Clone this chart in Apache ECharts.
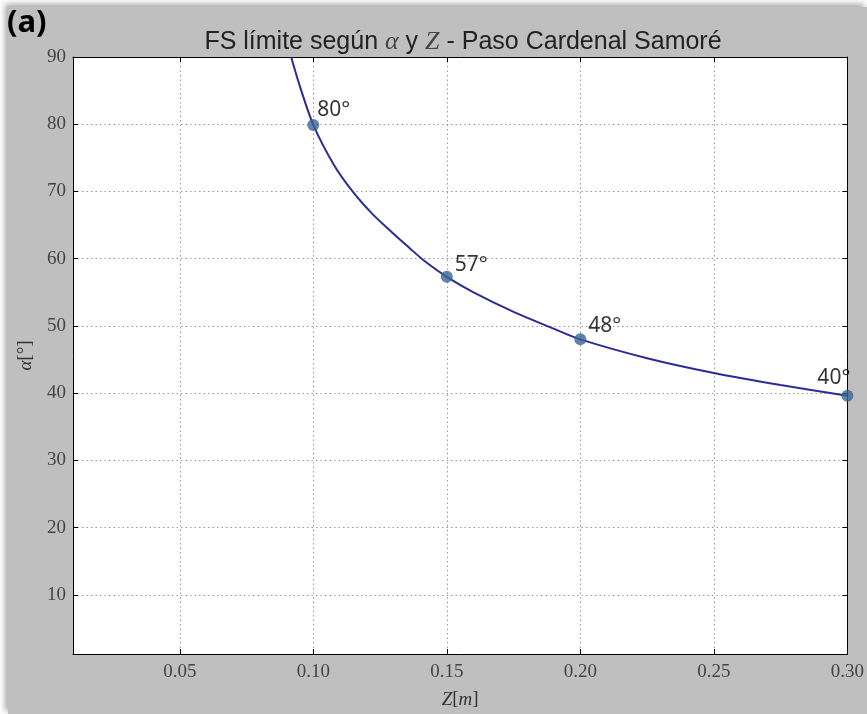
<!DOCTYPE html>
<html lang="es">
<head>
    <meta charset="UTF-8">
    <title>FS límite según α y Z - Paso Cardenal Samoré</title>
    <script src="https://cdn.jsdelivr.net/npm/echarts@6/dist/echarts.min.js"></script>
    <style>
        body { margin: 0; background: #fff; }
        #bg { position: absolute; left: 8px; top: 7px; width: 859px; height: 707px;
              background: #bfbfbf; box-shadow: -3px -3px 6px rgba(0,0,0,0.35); }
        #main { position: absolute; left: 0; top: 0; width: 867px; height: 714px; }
    </style>
</head>
<body>
<div id="bg"></div>
<div id="main"></div>
<script type="text/javascript">
    // curva alpha(Z)
    var zCurve     = [0.0917, 0.095, 0.100, 0.1075, 0.1147, 0.122, 0.1295, 0.136, 0.1415, 0.150, 0.160, 0.175, 0.190, 0.200, 0.225, 0.250, 0.275, 0.300];
    var alphaCurve = [90.0,   85.6,  79.9,  74.1,   70.0,   66.7,  63.9,   61.6,  59.7,   57.3,  55.0,  52.1,  49.6,  48.0,  45.2,  43.0,  41.2,  39.6];
    // puntos marcados
    var zMarks     = [0.10, 0.15, 0.20, 0.30];
    var alphaMarks = [79.9, 57.3, 48.0, 39.6];
    // ticks
    var xTicks = [0.05, 0.10, 0.15, 0.20, 0.25, 0.30];
    var yTicks = [10, 20, 30, 40, 50, 60, 70, 80, 90];

    var serif = 'Liberation Serif';
    var lineData = zCurve.map(function (z, i) { return [z, alphaCurve[i]]; });
    // posicion de cada etiqueta respecto al punto
    var labelPos = [
        { align: 'left',  offset: [4, -15] },
        { align: 'left',  offset: [8, -12] },
        { align: 'left',  offset: [8, -13] },
        { align: 'right', offset: [3, -18] }
    ];
    var markData = zMarks.map(function (z, i) {
        return {
            value: [z, alphaMarks[i]],
            label: {
                show: true, position: 'inside',
                formatter: Math.round(alphaMarks[i]) + '°',
                align: labelPos[i].align, verticalAlign: 'middle',
                offset: labelPos[i].offset,
                fontFamily: 'Noto Sans', fontSize: 21, color: '#000'
            }
        };
    });

    var myChart = echarts.init(document.getElementById('main'));
    var tickStyle = { show: true, inside: true, length: 5, lineStyle: { color: '#000' } };
    var lineAxis = { show: true, onZero: false, lineStyle: { color: '#000', width: 1 } };
    var gridLine = { show: true, lineStyle: { color: '#999', type: [1.5, 3], width: 1 } };

    myChart.setOption({
        backgroundColor: 'transparent',
        animation: false,
        title: {
            text: 'FS límite según {m|α} y {m|Z} - Paso Cardenal Samoré',
            left: 458, top: 24, textAlign: 'center',
            textStyle: {
                fontFamily: 'Liberation Sans', fontSize: 25, fontWeight: 'normal', color: '#222',
                rich: { m: { fontFamily: serif, fontStyle: 'italic', fontSize: 26, color: '#444' } }
            }
        },
        graphic: [{
            type: 'text', left: 7, top: 8,
            style: { text: '(a)', fontFamily: 'Noto Sans', fontWeight: 'bold', fontSize: 31, fill: '#000' }
        }],
        grid: { left: 73, right: 17, top: 57, bottom: 59, backgroundColor: '#fff', show: true, borderWidth: 0 },
        xAxis: [{
            type: 'value', min: 0.01, max: 0.30,
            name: '{i|Z}[{i|m}]', nameLocation: 'middle', nameGap: 36,
            nameTextStyle: { fontFamily: serif, fontSize: 19, color: '#333',
                rich: { i: { fontFamily: serif, fontStyle: 'italic', fontSize: 19, color: '#333' } } },
            axisLine: lineAxis,
            axisTick: Object.assign({ customValues: xTicks }, tickStyle),
            axisLabel: { customValues: xTicks, margin: 9, fontFamily: serif, fontSize: 19, color: '#444',
                formatter: function (v) { return v.toFixed(2); } },
            splitLine: gridLine
        }, {
            type: 'value', position: 'top', min: 0.01, max: 0.30,
            axisLine: lineAxis,
            axisTick: Object.assign({ customValues: xTicks }, tickStyle),
            axisLabel: { show: false }, splitLine: { show: false }
        }],
        yAxis: [{
            type: 'value', min: 1.2, max: 90,
            name: '{i|α}[°]', nameLocation: 'middle', nameGap: 38, nameRotate: 90,
            nameTextStyle: { fontFamily: serif, fontSize: 19, color: '#333',
                rich: { i: { fontFamily: serif, fontStyle: 'italic', fontSize: 19, color: '#333' } } },
            axisLine: lineAxis,
            axisTick: Object.assign({ customValues: yTicks }, tickStyle),
            axisLabel: { customValues: yTicks, margin: 7, fontFamily: serif, fontSize: 19, color: '#444' },
            splitLine: gridLine
        }, {
            type: 'value', position: 'right', min: 1.2, max: 90,
            axisLine: lineAxis,
            axisTick: Object.assign({ customValues: yTicks }, tickStyle),
            axisLabel: { show: false }, splitLine: { show: false }
        }],
        series: [{
            type: 'line', data: lineData, smooth: 0.3,
            showSymbol: false, lineStyle: { color: '#2c2c96', width: 2 }, z: 3
        }, {
            type: 'scatter', data: markData, symbolSize: 12, clip: false,
            itemStyle: { color: '#376592' }, z: 4
        }]
    });
</script>
</body>
</html>
